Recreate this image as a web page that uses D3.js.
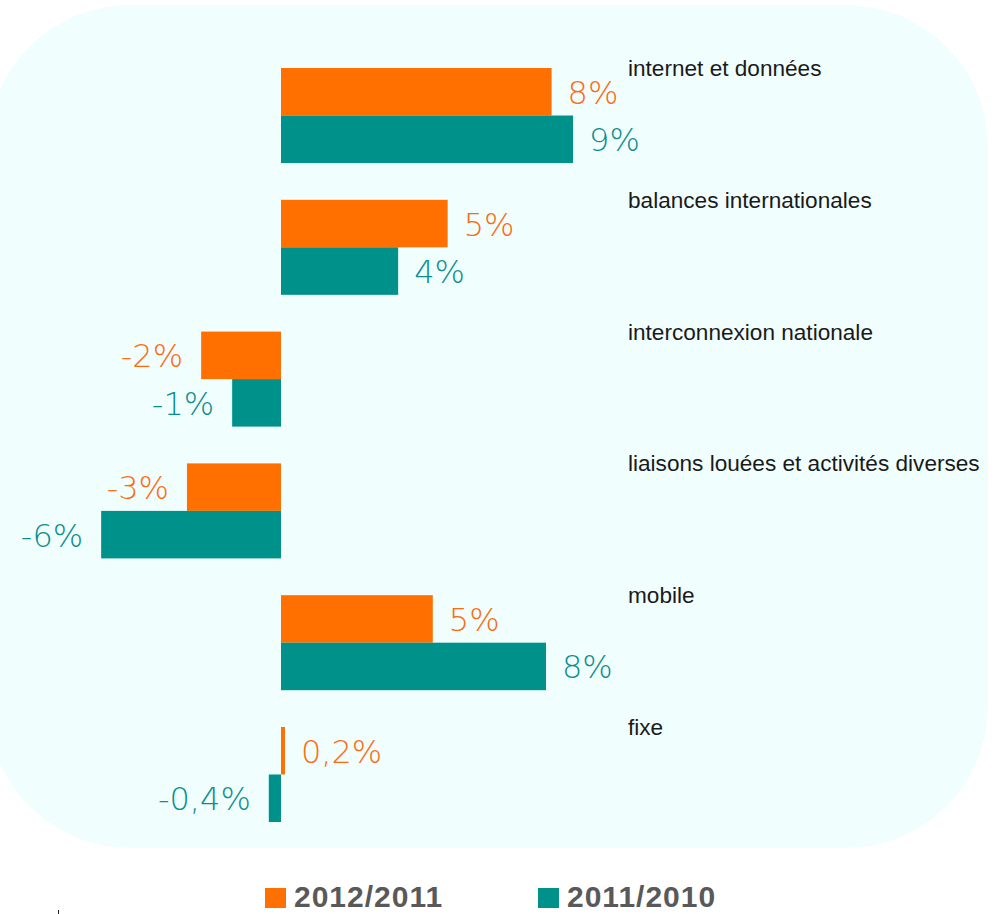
<!DOCTYPE html>
<html>
<head>
<meta charset="utf-8">
<script src="https://cdn.jsdelivr.net/npm/d3@7"></script>
<style>
  body { margin: 0; background: #fff; }
  svg { display: block; }
</style>
</head>
<body>
<div id="chart"></div>
<script>
// categories (top to bottom) and the two series
var categories = ['internet et données', 'balances internationales', 'interconnexion nationale',
                  'liaisons louées et activités diverses', 'mobile', 'fixe'];
var seriesNames = ['2012/2011', '2011/2010'];
// values (%)
var values2012 = [8.2, 5.05, -2.42, -2.85, 4.6, 0.12];
var values2011 = [8.85, 3.55, -1.48, -5.45, 8.03, -0.37];
// printed labels
var labels2012 = ['8%', '5%', '-2%', '-3%', '5%', '0,2%'];
var labels2011 = ['9%', '4%', '-1%', '-6%', '8%', '-0,4%'];

var colors = ['#ff7000', '#00918b'];
var textColors = ['#ff6a10', '#0b8f8b'];

var width = 1000, height = 914;

var svg = d3.select("#chart")
    .append("svg")
    .attr("width", width)
    .attr("height", height);

// pale rounded panel behind the chart
svg.append("rect")
    .attr("x", -12)
    .attr("y", 5)
    .attr("width", 1000)
    .attr("height", 843)
    .attr("rx", 142)
    .attr("ry", 142)
    .attr("fill", "#f1fefe");

// x scale: 0 sits at 281px, about 33px per percent
var x = d3.scaleLinear()
    .domain([-6, 9])
    .range([83, 578]);

// y: one band per category, split in two for the series
var y = d3.scaleBand()
    .domain(categories)
    .range([68, 822])
    .paddingInner(0.279)
    .paddingOuter(0);

var ySub = d3.scaleBand()
    .domain(seriesNames)
    .range([0, y.bandwidth()]);

var rows = [];
categories.forEach(function(c, i) {
    rows.push({cat: c, s: 0, v: values2012[i], label: labels2012[i]});
    rows.push({cat: c, s: 1, v: values2011[i], label: labels2011[i]});
});

// bars
svg.selectAll("rect.bar")
    .data(rows)
    .enter()
    .append("rect")
    .attr("class", "bar")
    .attr("x", function(d) { return Math.min(x(0), x(d.v)); })
    .attr("y", function(d) { return y(d.cat) + ySub(seriesNames[d.s]); })
    .attr("width", function(d) { return Math.abs(x(d.v) - x(0)); })
    .attr("height", ySub.bandwidth())
    .attr("fill", function(d) { return colors[d.s]; });

// value labels
svg.selectAll("text.val")
    .data(rows)
    .enter()
    .append("text")
    .attr("class", "val")
    .attr("x", function(d) { return d.v >= 0 ? x(d.v) + 16 : x(d.v) - 18; })
    .attr("y", function(d) { return y(d.cat) + ySub(seriesNames[d.s]) + ySub.bandwidth() / 2 + 12; })
    .attr("text-anchor", function(d) { return d.v >= 0 ? "start" : "end"; })
    .style("font-family", "'DejaVu Sans', sans-serif")
    .style("font-weight", 200)
    .style("font-size", "32px")
    .attr("fill", function(d) { return textColors[d.s]; })
    .text(function(d) { return d.label; });

// category names on the right
svg.selectAll("text.cat")
    .data(categories)
    .enter()
    .append("text")
    .attr("class", "cat")
    .attr("x", 628)
    .attr("y", function(d) { return y(d) + 8; })
    .style("font-family", "'Liberation Sans', Arial, sans-serif")
    .style("font-size", "22.6px")
    .attr("fill", "#1a1a1a")
    .text(function(d) { return d; });

// legend
var legendX = [265, 538];
var legend = svg.selectAll("g.legend")
    .data(seriesNames)
    .enter()
    .append("g")
    .attr("class", "legend")
    .attr("transform", function(d, i) { return "translate(" + legendX[i] + ",888)"; });

legend.append("rect")
    .attr("width", 21)
    .attr("height", 20)
    .attr("fill", function(d, i) { return colors[i]; });

legend.append("text")
    .attr("x", 29)
    .attr("y", 19)
    .style("font-family", "'Liberation Sans', Arial, sans-serif")
    .style("font-weight", "bold")
    .style("font-size", "30px")
    .style("letter-spacing", "1px")
    .attr("fill", "#595959")
    .text(function(d) { return d; });

// small stray tick at the bottom left of the original
svg.append("line")
    .attr("x1", 58.5).attr("x2", 58.5)
    .attr("y1", 910).attr("y2", 914)
    .attr("stroke", "#222")
    .attr("stroke-width", 1);
</script>
</body>
</html>
